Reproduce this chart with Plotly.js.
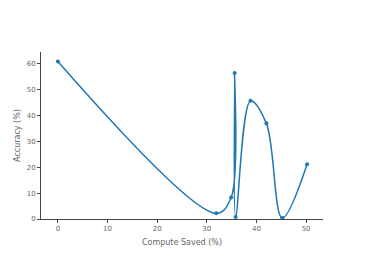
<!DOCTYPE html>
<html><head><meta charset="utf-8">
<script src="https://cdn.plot.ly/plotly-3.0.1.min.js"></script>
<style>html,body{margin:0;padding:0;background:#fff}</style>
</head><body><div id="chart" style="width:366px;height:261px"></div>
<script>
const computeSaved = [0, 31.9, 34.9, 35.6, 35.8, 38.8, 42.0, 45.2, 50.2];
const accuracy = [60.9, 2.2, 8.3, 56.5, 0.8, 45.7, 37.0, 0.4, 21.2];

Plotly.newPlot('chart', [{
  x: computeSaved, y: accuracy, type: 'scatter', mode: 'lines+markers',
  line: {shape: 'spline', color: '#1f77b4', width: 1.5},
  marker: {size: 4, color: '#1f77b4'}
}], {
  width: 366, height: 261,
  margin: {l: 41, r: 43, t: 52, b: 42},
  paper_bgcolor: '#fff', plot_bgcolor: '#fff',
  font: {family: 'DejaVu Sans, sans-serif', size: 7, color: '#666'},
  showlegend: false,
  xaxis: {range: [-3.4, 53.4], showline: true, linecolor: '#444', linewidth: 1, ticks: 'outside', ticklen: 3, tickcolor: '#444', showgrid: false, zeroline: false, tickvals: [0,10,20,30,40,50],
    title: {text: 'Compute Saved (%)', font: {size: 8, color: '#666'}, standoff: 6}},
  yaxis: {range: [0, 64.6], showline: true, linecolor: '#444', linewidth: 1, ticks: 'outside', ticklen: 3, tickcolor: '#444', showgrid: false, zeroline: false, tickvals: [0,10,20,30,40,50,60],
    title: {text: 'Accuracy (%)', font: {size: 8, color: '#666'}, standoff: 4}}
}, {displayModeBar: false, staticPlot: true});
</script></body></html>
